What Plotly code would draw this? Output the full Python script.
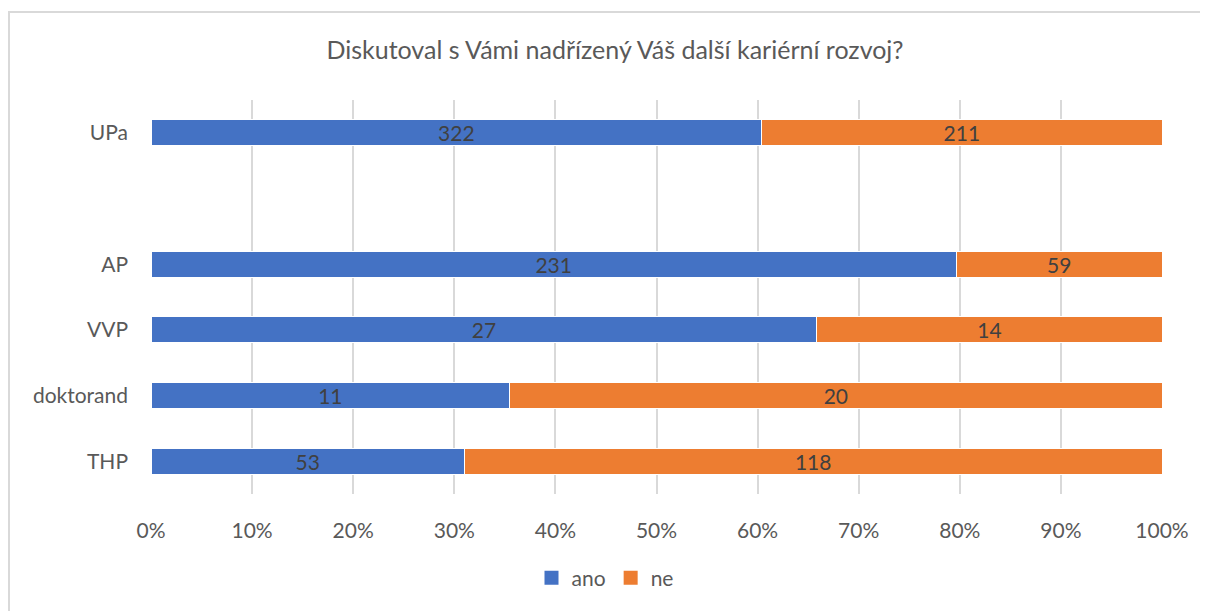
import plotly.graph_objects as go

categories = ["THP", "doktorand", "VVP", "AP", " ", "UPa"]
ano = [53, 11, 27, 231, None, 322]
ne = [118, 20, 14, 59, None, 211]
x_ticks = list(range(0, 101, 10))
title_text = "Diskutoval s Vámi nadřízený Váš další kariérní rozvoj?"

FONT = "Lato"
fig = go.Figure()
for name, vals, color in (("ano", ano, "#4472C4"), ("ne", ne, "#ED7D31")):
    fig.add_trace(go.Bar(
        name=name, y=categories, x=vals, orientation="h", showlegend=False,
        legendgroup=name,
        marker=dict(color=color, line=dict(color="white", width=1)),
        text=[str(v) if v is not None else "" for v in vals],
        textposition="inside", insidetextanchor="middle", textangle=0,
        constraintext="none",
        textfont=dict(color="#404040", size=21, family=FONT),
    ))
for name, color in (("ano", "#4472C4"), ("ne", "#ED7D31")):
    fig.add_trace(go.Scatter(
        name=name, x=[None], y=[None], mode="markers", legendgroup=name,
        marker=dict(symbol="square", size=14, color=color),
        showlegend=True, hoverinfo="skip",
    ))

fig.update_layout(
    width=1208, height=611,
    barmode="stack", barnorm="percent", bargap=0.6,
    paper_bgcolor="white", plot_bgcolor="white",
    margin=dict(l=143, r=54, t=92, b=125),
    font=dict(family=FONT, color="#595959", size=21),
    uniformtext=dict(mode=False),
    title=dict(text=title_text, x=(615 - 151) / 1011, xref="paper", xanchor="center",
               y=1 - 42 / 611, yref="container", yanchor="middle",
               font=dict(size=25, color="#595959", family=FONT)),
    legend=dict(orientation="h", x=(605 - 151) / 1011, xanchor="center",
                y=(494 - 578) / 394, yanchor="middle",
                font=dict(size=21, color="#595959", family=FONT),
                traceorder="normal", itemwidth=30),
    xaxis=dict(range=[0, 100], tickvals=x_ticks, ticktext=[f"{v}%" for v in x_ticks],
               showgrid=True, gridcolor="#D9D9D9", gridwidth=2, zeroline=False,
               showline=False, ticks="", ticklabelstandoff=22, fixedrange=True),
    yaxis=dict(categoryorder="array", categoryarray=categories,
               showgrid=False, zeroline=False, showline=False, ticks="",
               ticklabelstandoff=22),
    shapes=[dict(type="rect", xref="paper", yref="paper",
                 x0=(9 - 151) / 1011, x1=1.2, y0=-0.5, y1=(494 - 12) / 394,
                 line=dict(color="#D9D9D9", width=2), fillcolor="rgba(0,0,0,0)",
                 layer="below")],
)
fig.write_html("out.html")
